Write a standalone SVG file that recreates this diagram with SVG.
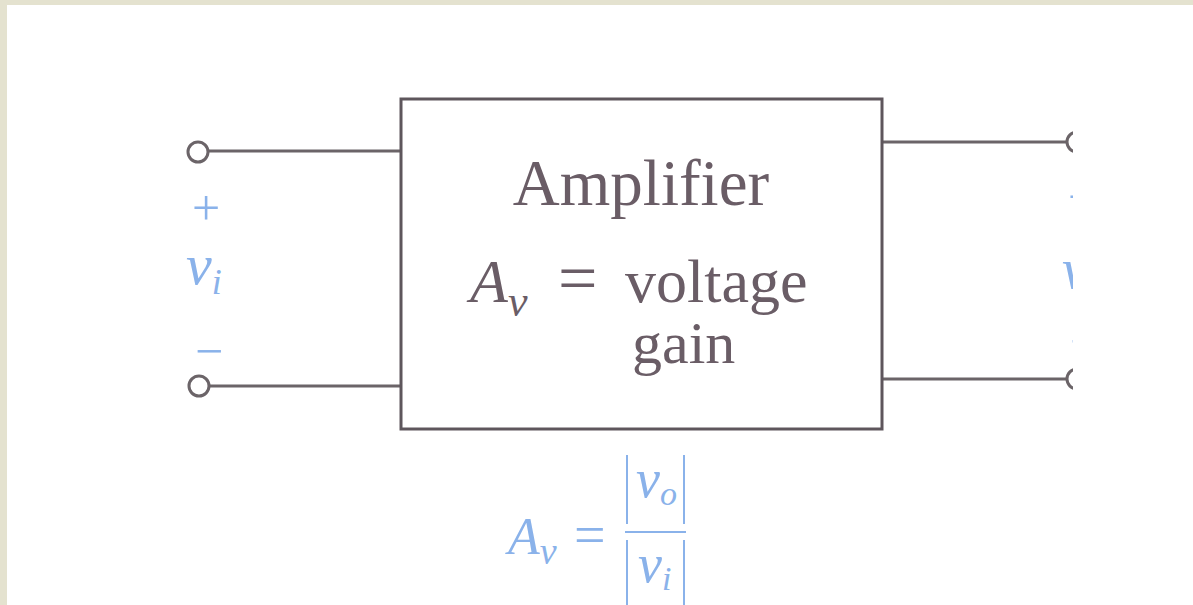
<svg xmlns="http://www.w3.org/2000/svg" width="1193" height="605" viewBox="0 0 1193 605">
  <style>
    .wire { stroke: #6b6468; stroke-width: 3; fill: none; }
    .term { stroke: #6b6468; stroke-width: 3; fill: #ffffff; }
    .box { stroke: #5e565c; stroke-width: 3; fill: #ffffff; }
    .label { font-family: "Liberation Serif", "DejaVu Serif", serif; fill: #6a5d66; }
    .blue { font-family: "Liberation Serif", "DejaVu Serif", serif; fill: #8ab2ea; }
    .it { font-style: italic; }
    .bar { stroke: #8ab2ea; stroke-width: 2; }
  </style>
  <defs>
    <clipPath id="crop">
      <rect x="0" y="0" width="1073" height="605"/>
    </clipPath>
  </defs>
  <rect x="0" y="0" width="1193" height="605" fill="#e4e2cf"/>
  <rect x="7" y="5" width="1186" height="600" fill="#ffffff"/>

  <g id="connectors" clip-path="url(#crop)">
    <line class="wire" x1="208" y1="151" x2="401" y2="151"/>
    <line class="wire" x1="209" y1="386" x2="401" y2="386"/>
    <line class="wire" x1="882" y1="142" x2="1066" y2="142"/>
    <line class="wire" x1="882" y1="379" x2="1066" y2="379"/>
  </g>

  <g id="amplifier">
    <rect class="box" x="401" y="99" width="481" height="330"/>
    <text class="label" x="641" y="205" font-size="65" text-anchor="middle">Amplifier</text>
    <text class="label" font-size="62" y="302"><tspan class="it" x="470">A</tspan><tspan class="it" font-size="44" dy="14">v</tspan><tspan dy="-14" x="558" font-size="70">=</tspan><tspan x="625">voltage</tspan></text>
    <text class="label" x="632" y="363" font-size="60">gain</text>
  </g>

  <g id="input-terminals">
    <circle class="term" cx="198" cy="152" r="10"/>
    <circle class="term" cx="199" cy="386" r="10"/>
    <text class="blue" x="206" y="225" font-size="50" text-anchor="middle">+</text>
    <text class="blue it" x="186" y="284" font-size="58">v<tspan font-size="36" dy="10">i</tspan></text>
    <text class="blue" x="209" y="368" font-size="50" text-anchor="middle">−</text>
  </g>

  <g id="output-terminals" clip-path="url(#crop)">
    <circle class="term" cx="1077" cy="142" r="10"/>
    <circle class="term" cx="1077" cy="379" r="10"/>
    <text class="blue" x="1082" y="214" font-size="50" text-anchor="middle">+</text>
    <text class="blue it" x="1062" y="288" font-size="58">v<tspan font-size="36" dy="10">o</tspan></text>
    <text class="blue" x="1084" y="358" font-size="50" text-anchor="middle">−</text>
  </g>

  <g id="gain-formula">
    <text class="blue" font-size="52" y="554"><tspan class="it" x="508">A</tspan><tspan class="it" font-size="38" dy="10">v</tspan><tspan dy="-10" x="574" font-size="56">=</tspan></text>
    <line class="bar" x1="625" y1="532" x2="686" y2="532"/>
    <line class="bar" x1="627" y1="455" x2="627" y2="524"/>
    <line class="bar" x1="684" y1="455" x2="684" y2="524"/>
    <text class="blue it" x="636" y="497" font-size="54">v<tspan font-size="34" dy="8">o</tspan></text>
    <line class="bar" x1="627" y1="540" x2="627" y2="605"/>
    <line class="bar" x1="684" y1="540" x2="684" y2="605"/>
    <text class="blue it" x="638" y="582" font-size="54">v<tspan font-size="34" dy="8">i</tspan></text>
  </g>
</svg>
